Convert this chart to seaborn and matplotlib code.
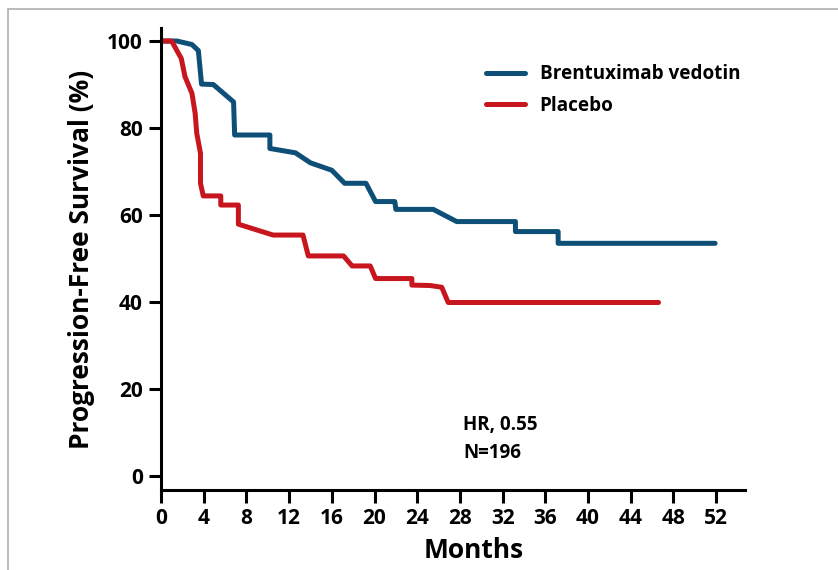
import matplotlib
matplotlib.use("Agg")
import matplotlib.pyplot as plt
import seaborn as sns
import pandas as pd
from matplotlib.lines import Line2D

# ---- data ----
bv_months = [0, 1.5, 2.9, 3.5, 3.8, 4.9, 6.8, 6.9, 10.2, 10.2, 12.6, 14.0, 16.0, 17.2,
             19.2, 20.1, 21.9, 22.0, 25.5, 27.7, 33.2, 33.2, 37.2, 37.2, 51.9]
bv_pfs = [100, 100, 99.2, 97.8, 90.1, 90.0, 86.0, 78.4, 78.4, 75.3, 74.3, 72.0, 70.3, 67.3,
          67.3, 63.1, 63.1, 61.3, 61.3, 58.5, 58.5, 56.2, 56.2, 53.5, 53.5]

pl_months = [0, 1.0, 1.9, 2.25, 2.9, 3.2, 3.35, 3.7, 3.7, 3.96, 5.6, 5.6, 7.25, 7.25,
             10.5, 13.3, 13.8, 17.1, 17.9, 19.6, 20.1, 23.5, 23.5, 25.2, 26.3, 26.9, 46.6]
pl_pfs = [100, 100, 96.0, 91.8, 88.0, 83.4, 78.8, 74.2, 67.3, 64.4, 64.4, 62.3, 62.3, 57.9,
          55.4, 55.4, 50.6, 50.6, 48.3, 48.3, 45.4, 45.4, 43.9, 43.8, 43.4, 39.9, 39.9]

arms = ["Brentuximab vedotin", "Placebo"]
colors = ["#0d4f77", "#c8161f"]
x_ticks = list(range(0, 53, 4))
y_ticks = [0, 20, 40, 60, 80, 100]
annotation = ["HR, 0.55", "N=196"]

df = pd.concat([
    pd.DataFrame({"Months": bv_months, "PFS": bv_pfs, "arm": arms[0]}),
    pd.DataFrame({"Months": pl_months, "PFS": pl_pfs, "arm": arms[1]}),
], ignore_index=True)

sns.set_style("ticks")
plt.rcParams["font.family"] = ["Open Sans", "DejaVu Sans"]
plt.rcParams["font.weight"] = "bold"
plt.rcParams["text.color"] = "black"
plt.rcParams["axes.labelcolor"] = "black"

fig = plt.figure(figsize=(8.38, 5.70), dpi=100)
ax = fig.add_axes([0.1921, 0.1404, 0.889 - 0.1921, 0.9509 - 0.1404])

sns.lineplot(data=df, x="Months", y="PFS", hue="arm", hue_order=arms,
             palette=dict(zip(arms, colors)), sort=False, estimator=None,
             linewidth=3.6, ax=ax, legend=False)

ax.set_xlim(0, 54.7)
ax.set_ylim(-3.2, 103)
ax.set_xticks(x_ticks)
ax.set_yticks(y_ticks)
ax.tick_params(axis="both", direction="out", length=9, width=2.2, labelsize=15,
               colors="black", pad=4)
for lab in ax.get_xticklabels() + ax.get_yticklabels():
    lab.set_fontweight("bold")
for s in ["top", "right"]:
    ax.spines[s].set_visible(False)
for s in ["left", "bottom"]:
    ax.spines[s].set_linewidth(2.2)
    ax.spines[s].set_color("black")

ax.set_xlabel("Months", fontsize=19, fontweight="bold")
ax.xaxis.set_label_coords(0.535, -0.102)
ax.set_ylabel("Progression-Free Survival (%)", fontsize=19, fontweight="bold", labelpad=9)

handles = [Line2D([], [], color=c, linewidth=3.6) for c in colors]
ax.legend(handles, arms, loc="upper left", bbox_to_anchor=(0.527, 0.958), frameon=False,
          handlelength=2.1, handletextpad=0.75, labelspacing=0.6,
          prop={"size": 13.6, "weight": "bold"})

ax.text(0.518, 0.140, annotation[0], transform=ax.transAxes, fontsize=13.5,
        fontweight="bold", va="center", ha="left")
ax.text(0.518, 0.080, annotation[1], transform=ax.transAxes, fontsize=13.5,
        fontweight="bold", va="center", ha="left")

# light gray frame (top and left edges) as in reference
fig.add_artist(Line2D([8 / 838, 1.0], [1 - 9 / 570, 1 - 9 / 570], color="#b5b5b5",
                      linewidth=1.3, transform=fig.transFigure))
fig.add_artist(Line2D([8 / 838, 8 / 838], [0, 1 - 9 / 570], color="#b5b5b5",
                      linewidth=1.3, transform=fig.transFigure))

fig.savefig("out.png", dpi=100)
